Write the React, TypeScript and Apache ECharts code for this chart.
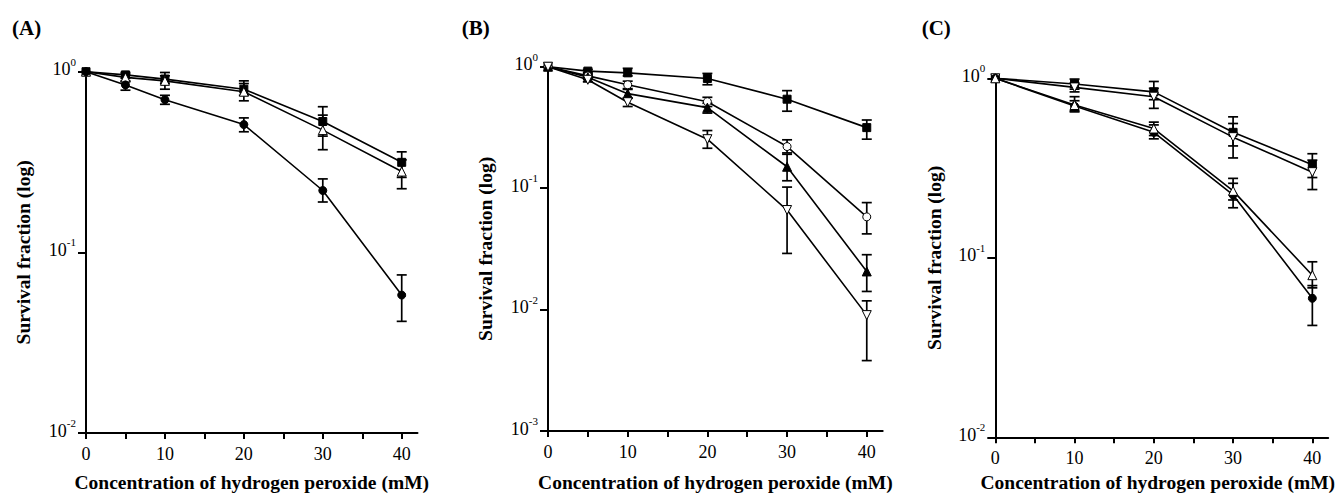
import React, { useEffect, useRef } from "react";
import * as echarts from "echarts";

// ---------- data ----------
const doseA = [0, 5, 10, 20, 30, 40];
const aSquare = [1.0, 0.96, 0.91, 0.8, 0.53, 0.315];
const aSquareLo = [1.0, 0.92, 0.86, 0.74, 0.44, 0.26];
const aSquareHi = [1.0, 0.99, 0.95, 0.89, 0.64, 0.36];
const aTri = [1.0, 0.93, 0.89, 0.775, 0.475, 0.28];
const aTriLo = [1.0, 0.89, 0.8, 0.69, 0.37, 0.225];
const aTriHi = [1.0, 0.97, 0.99, 0.86, 0.575, 0.325];
const aCircle = [1.0, 0.845, 0.7, 0.51, 0.22, 0.058];
const aCircleLo = [1.0, 0.79, 0.66, 0.465, 0.19, 0.0415];
const aCircleHi = [1.0, 0.88, 0.74, 0.555, 0.255, 0.075];

const doseB = [0, 5, 10, 20, 30, 40];
const bSquare = [1.0, 0.92, 0.89, 0.8, 0.54, 0.315];
const bSquareLo = [1.0, 0.89, 0.84, 0.71, 0.43, 0.253];
const bSquareHi = [1.0, 0.95, 0.97, 0.88, 0.635, 0.364];
const bCircle = [1.0, 0.84, 0.71, 0.515, 0.22, 0.058];
const bCircleLo = [1.0, 0.81, 0.66, 0.47, 0.195, 0.042];
const bCircleHi = [1.0, 0.87, 0.76, 0.56, 0.25, 0.076];
const bTri = [1.0, 0.82, 0.6, 0.46, 0.15, 0.0206];
const bTriLo = [1.0, 0.79, 0.55, 0.415, 0.115, 0.0141];
const bTriHi = [1.0, 0.85, 0.65, 0.5, 0.19, 0.0283];
const bInv = [1.0, 0.78, 0.51, 0.253, 0.066, 0.009];
const bInvLo = [1.0, 0.75, 0.47, 0.213, 0.029, 0.0038];
const bInvHi = [1.0, 0.81, 0.55, 0.298, 0.102, 0.0118];

const doseC = [0, 10, 20, 30, 40];
const cSquare = [1.0, 0.93, 0.84, 0.5, 0.33];
const cSquareLo = [1.0, 0.87, 0.76, 0.42, 0.28];
const cSquareHi = [1.0, 0.99, 0.96, 0.61, 0.38];
const cInv = [1.0, 0.89, 0.79, 0.47, 0.3];
const cInvLo = [1.0, 0.84, 0.68, 0.36, 0.24];
const cInvHi = [1.0, 0.94, 0.88, 0.56, 0.35];
const cCircle = [1.0, 0.7, 0.5, 0.224, 0.0595];
const cCircleLo = [1.0, 0.65, 0.46, 0.19, 0.042];
const cCircleHi = [1.0, 0.75, 0.55, 0.26, 0.07];
const cTri = [1.0, 0.71, 0.525, 0.236, 0.08];
const cTriLo = [1.0, 0.66, 0.48, 0.21, 0.068];
const cTriHi = [1.0, 0.79, 0.57, 0.277, 0.095];

const panelLabels = ["(A)", "(B)", "(C)"];
const yMins = [0.01, 0.001, 0.01];
const xTickValues = [0, 5, 10, 15, 20, 25, 30, 35, 40];
const xLabelValues = [0, 10, 20, 30, 40];
const yAxisTitle = "Survival fraction (log)";
const xAxisTitle = "Concentration of hydrogen peroxide (mM)";

// ---------- styling ----------
const SERIF = '"Liberation Serif", "Times New Roman", serif';

function errSeries(idx: number, dose: number[], lo: number[], hi: number[]) {
  return {
    type: "custom",
    xAxisIndex: idx,
    yAxisIndex: idx,
    z: 2,
    silent: true,
    encode: { x: 0, y: [1, 2] },
    data: dose.map((d, i) => [d, lo[i], hi[i]]).filter((p) => p[2] > p[1]),
    renderItem: (params: any, api: any) => {
      const x = api.value(0);
      const a = api.coord([x, api.value(1)]);
      const b = api.coord([x, api.value(2)]);
      const w = 5;
      const st = () => ({ stroke: "#000", lineWidth: 1.7 });
      return {
        type: "group",
        children: [
          { type: "line", shape: { x1: a[0], y1: a[1], x2: b[0], y2: b[1] }, style: st() },
          { type: "line", shape: { x1: a[0] - w, y1: a[1], x2: a[0] + w, y2: a[1] }, style: st() },
          { type: "line", shape: { x1: b[0] - w, y1: b[1], x2: b[0] + w, y2: b[1] }, style: st() },
        ],
      };
    },
  };
}

function lineSeries(
  idx: number,
  dose: number[],
  vals: number[],
  symbol: string,
  filled: boolean,
  rotate = 0,
  size = 8
) {
  return {
    type: "line",
    xAxisIndex: idx,
    yAxisIndex: idx,
    z: 3,
    data: dose.map((d, i) => [d, vals[i]]),
    symbol,
    symbolSize: size,
    symbolRotate: rotate,
    showSymbol: true,
    showAllSymbol: true,
    lineStyle: { color: "#000", width: 1.6 },
    itemStyle: { color: filled ? "#000" : "#fff", borderColor: "#000", borderWidth: 1 },
    emphasis: { disabled: true },
    silent: true,
  };
}

const grids = [
  { left: 86, top: 71.7, width: 331.5, height: 361.3 },
  { left: 548, top: 66.7, width: 334.7, height: 364.3 },
  { left: 995.3, top: 78.3, width: 332.9, height: 359 },
];
const yNameGaps = [53, 53, 51];
const xNameGaps = [39, 41, 35];
const xNamePads = [
  [0, 0, 0, 0],
  [0, 0, 0, 0],
  [0, 8, 0, 0],
];
const labelLefts = [12, 461.7, 921.7];

export default function App() {
  const ref = useRef<HTMLDivElement>(null);
  useEffect(() => {
    if (!ref.current) return;
    const chart = echarts.init(ref.current, null, { renderer: "svg" });

    const xAxis = grids.map((_, i) => ({
      type: "value",
      gridIndex: i,
      min: 0,
      max: 42,
      interval: 5,
      name: xAxisTitle,
      nameLocation: "middle",
      nameGap: xNameGaps[i],
      nameMoveOverlap: false,
      nameTextStyle: {
        fontFamily: SERIF,
        fontWeight: "bold",
        fontSize: 19.5,
        color: "#000",
        padding: xNamePads[i],
      },
      axisLine: { show: true, onZero: false, lineStyle: { color: "#000", width: 2 } },
      axisTick: { show: true, inside: false, length: 6, customValues: xTickValues, lineStyle: { color: "#000", width: 2 } },
      axisLabel: {
        show: true,
        customValues: xLabelValues,
        margin: 12,
        fontFamily: SERIF,
        fontSize: 18,
        color: "#000",
        formatter: (v: number) => (v % 10 === 0 ? String(v) : ""),
      },
      splitLine: { show: false },
    }));

    const yAxis = grids.map((_, i) => ({
      type: "log",
      logBase: 10,
      gridIndex: i,
      min: yMins[i],
      max: 1,
      name: yAxisTitle,
      nameLocation: "middle",
      nameGap: yNameGaps[i],
      nameMoveOverlap: false,
      nameTextStyle: { fontFamily: SERIF, fontWeight: "bold", fontSize: 19.5, color: "#000" },
      axisLine: { show: true, onZero: false, lineStyle: { color: "#000", width: 2 } },
      axisTick: { show: true, inside: false, length: 8, lineStyle: { color: "#000", width: 2 } },
      axisLabel: {
        show: true,
        margin: 10,
        padding: [0, 0, 5, 0],
        formatter: (v: number) => `{b|10}{s|${Math.round(Math.log10(v))}}`,
        rich: {
          b: { fontFamily: SERIF, fontSize: 18, lineHeight: 26, verticalAlign: "middle", color: "#000" },
          s: { fontFamily: SERIF, fontSize: 11, lineHeight: 11, verticalAlign: "top", color: "#000" },
        },
      },
      splitLine: { show: false },
      minorTick: { show: false },
    }));

    const series: any[] = [
      // Panel A
      errSeries(0, doseA, aSquareLo, aSquareHi),
      errSeries(0, doseA, aTriLo, aTriHi),
      errSeries(0, doseA, aCircleLo, aCircleHi),
      lineSeries(0, doseA, aSquare, "rect", true, 0, 8),
      lineSeries(0, doseA, aTri, "triangle", false, 0, 9),
      lineSeries(0, doseA, aCircle, "circle", true, 0, 8),
      // Panel B
      errSeries(1, doseB, bSquareLo, bSquareHi),
      errSeries(1, doseB, bCircleLo, bCircleHi),
      errSeries(1, doseB, bTriLo, bTriHi),
      errSeries(1, doseB, bInvLo, bInvHi),
      lineSeries(1, doseB, bSquare, "rect", true, 0, 8),
      lineSeries(1, doseB, bCircle, "circle", false, 0, 8),
      lineSeries(1, doseB, bTri, "triangle", true, 0, 9),
      lineSeries(1, doseB, bInv, "triangle", false, 180, 9),
      // Panel C
      errSeries(2, doseC, cSquareLo, cSquareHi),
      errSeries(2, doseC, cInvLo, cInvHi),
      errSeries(2, doseC, cCircleLo, cCircleHi),
      errSeries(2, doseC, cTriLo, cTriHi),
      lineSeries(2, doseC, cSquare, "rect", true, 0, 8),
      lineSeries(2, doseC, cInv, "triangle", false, 180, 9),
      lineSeries(2, doseC, cCircle, "circle", true, 0, 8),
      lineSeries(2, doseC, cTri, "triangle", false, 0, 9),
    ];

    chart.setOption({
      animation: false,
      backgroundColor: "#fff",
      grid: grids.map((g) => ({ ...g, containLabel: false, outerBoundsMode: "none" })),
      xAxis,
      yAxis,
      series,
      graphic: panelLabels.map((t, i) => ({
        type: "text",
        left: labelLefts[i],
        top: 17,
        style: { text: t, fontFamily: SERIF, fontWeight: "bold", fontSize: 21, fill: "#000" },
      })),
    });
    return () => chart.dispose();
  }, []);

  return (
    <div
      ref={ref}
      style={{ position: "absolute", left: 0, top: 0, width: 1337, height: 494, background: "#fff" }}
    />
  );
}
